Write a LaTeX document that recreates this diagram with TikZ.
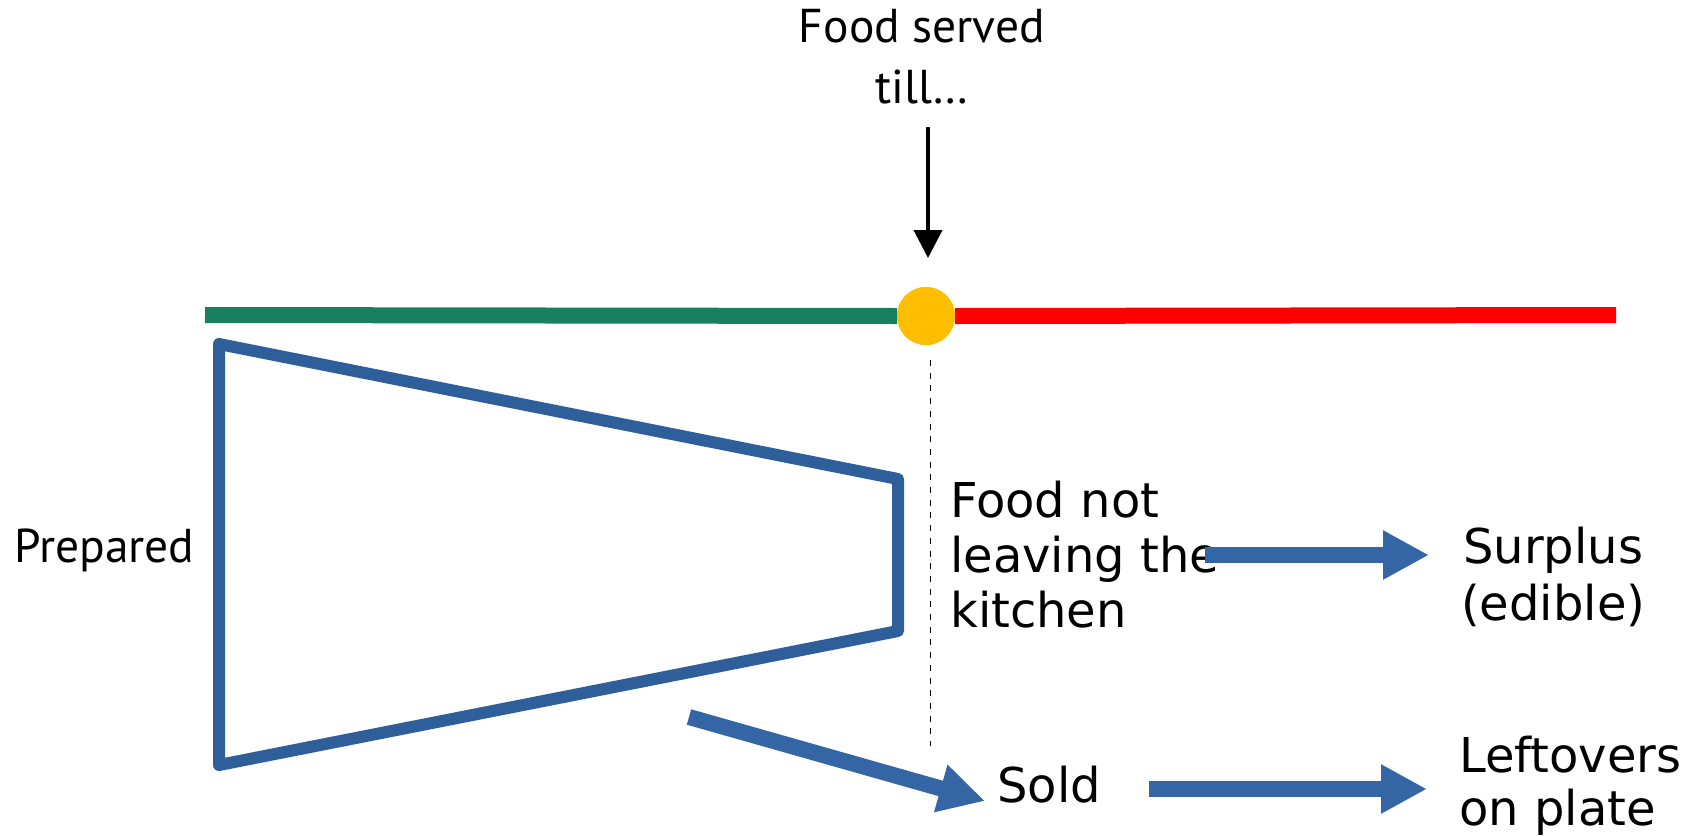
\documentclass[tikz,border=0pt]{standalone}
\usepackage{fontspec}
\setmainfont{DejaVu Sans}
\newfontfamily\ptsans{PT Sans}
\usetikzlibrary{arrows.meta}
\definecolor{tlgreen}{RGB}{24,128,96}
\definecolor{tlred}{RGB}{255,0,0}
\definecolor{tlamber}{RGB}{255,191,0}
\definecolor{flowblue}{RGB}{52,101,164}
\definecolor{boxblue}{RGB}{46,95,154}
\tikzset{
  label48/.style={inner sep=0pt, align=left, font=\fontsize{48}{56}\selectfont},
  labelpt/.style={inner sep=0pt, font=\ptsans\fontsize{47.5}{61}\selectfont},
  flow/.style={draw=flowblue, line width=16pt, -{Triangle[length=46pt,width=46pt]}},
  timeline/.style={line width=16pt},
}
\begin{document}
\begin{tikzpicture}[x=1pt,y=-1pt]
\useasboundingbox (0,0) rectangle (1688,836);

% timeline: green before service ends, red after
\coordinate (tlstart) at (205,315);
\coordinate (tlend) at (1616,315);
\node[circle, fill=tlamber, minimum size=58pt, inner sep=0pt] (cutoff) at (926,316) {};
\draw[timeline, tlgreen] (tlstart) -- (cutoff.west);
\draw[timeline, tlred] (cutoff.east) -- (tlend);
\node[circle, fill=tlamber, minimum size=58pt, inner sep=0pt] at (cutoff) {};

% marker for the end of service
\node[labelpt, anchor=base] (served) at (922,42) {Food served};
\node[labelpt, anchor=base] (till) at (922,103) {till\ldots};
\coordinate (mstart) at (928,127);
\coordinate (mend) at (928,258);
\draw[line width=4pt, -{Triangle[length=28pt,width=28pt]}] (mstart) -- (mend);

% dashed divider below the cut-off point
\coordinate (dtop) at (930.5,360);
\coordinate (dbot) at (930.5,746);
\draw[line width=1.6pt, dash pattern=on 6pt off 6.7pt] (dtop) -- (dbot);

% funnel of prepared food
\coordinate (ftl) at (219,344);
\coordinate (ftr) at (898,479);
\coordinate (fbr) at (898,631);
\coordinate (fbl) at (219,765);
\draw[boxblue, line width=12pt, line join=round] (ftl) -- (ftr) -- (fbr) -- (fbl) -- cycle;
\node[labelpt, anchor=base west] (prepared) at (14,562) {Prepared};

% outcome labels
\node[label48, anchor=base west] (kitchen) at (950,517) {Food not};
\node[label48, anchor=base west] at (950,572) {leaving the};
\node[label48, anchor=base west] at (950,627) {kitchen};
\node[label48, anchor=base west] (surplus) at (1463,563) {Surplus};
\node[label48, anchor=base west] at (1461,620) {(edible)};
\node[label48, anchor=base west] (sold) at (997,802) {Sold};
\node[label48, anchor=base west] (leftovers) at (1459,772) {Leftovers};
\node[label48, anchor=base west] at (1459,825) {on plate};

% flows between outcomes
\coordinate (s1) at (1205,555);
\coordinate (s2) at (1429,555);
\draw[flow] (s1) -- (s2);
\coordinate (l1) at (1149,789);
\coordinate (l2) at (1427,789);
\draw[flow] (l1) -- (l2);
\coordinate (o1) at (689,717);
\coordinate (o2) at (985,801);
\draw[flow] (o1) -- (o2);
\end{tikzpicture}
\end{document}
